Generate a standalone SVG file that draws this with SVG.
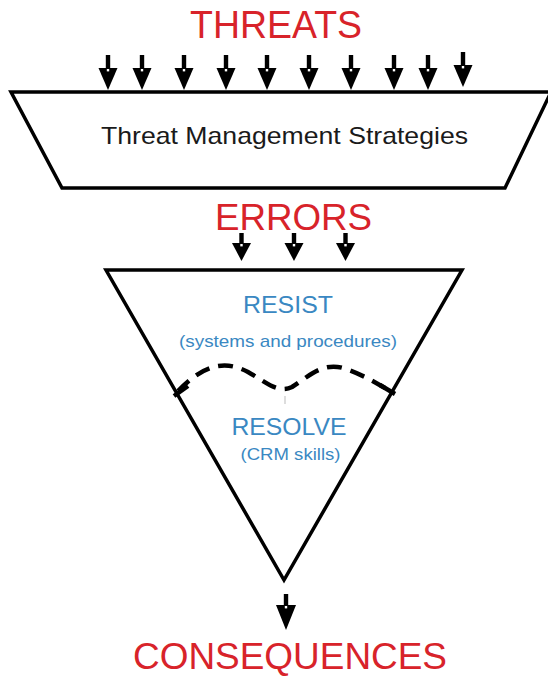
<svg xmlns="http://www.w3.org/2000/svg" width="548" height="676" viewBox="0 0 548 676">
<style>
.red{fill:#d8232a;font-family:"Liberation Sans",Arial,sans-serif;text-anchor:middle}
.blue{fill:#3a88c2;font-family:"Liberation Sans",Arial,sans-serif;text-anchor:middle}
.blk{fill:#1a1a1a;font-family:"Liberation Sans",Arial,sans-serif;text-anchor:middle}
.shape{fill:#fff;stroke:#000;stroke-width:3.5;stroke-linejoin:miter}
.arr{fill:#000;stroke:none}
.dot{fill:#fff}
.dash{fill:none;stroke:#000;stroke-width:4.5;stroke-dasharray:15 9}
.tick{stroke:#000;stroke-width:4.5}
</style>
<defs>
<g id="arrowL">
<rect x="-2.2" y="-35" width="4.4" height="15" class="arr"/>
<polygon points="-9.5,-22 9.5,-22 0,0" class="arr"/>
<rect x="-1.2" y="-21" width="2.4" height="2.4" class="dot"/>
</g>
<g id="arrowS">
<rect x="-2.2" y="-28" width="4.4" height="11" class="arr"/>
<polygon points="-9.5,-18 9.5,-18 0,0" class="arr"/>
<rect x="-1.2" y="-17" width="2.4" height="2.4" class="dot"/>
</g>
<g id="arrowB">
<rect x="-2.2" y="-36" width="4.4" height="13" class="arr"/>
<polygon points="-10,-25 10,-25 0,0" class="arr"/>
<rect x="-1.2" y="-24" width="2.4" height="2.4" class="dot"/>
</g>
</defs>
<rect width="548" height="676" fill="#fff"/>
<g id="threats-label"><text class="red" x="276" y="38" font-size="38" textLength="172" lengthAdjust="spacingAndGlyphs">THREATS</text></g>
<g id="tms">
<polygon class="shape" points="11,92 551,92 505,188 62,188"/>
<text class="blk" x="284.5" y="144" font-size="24" textLength="367" lengthAdjust="spacingAndGlyphs">Threat Management Strategies</text>
</g>
<g id="errors-label"><text class="red" x="293.5" y="230" font-size="37" textLength="157" lengthAdjust="spacingAndGlyphs">ERRORS</text></g>
<g id="funnel">
<polygon class="shape" points="106,270 462,270 284,580" stroke-width="3"/>
<path class="dash" d="M178,391 C200,368 222,358 248,372 C266,382 278,394 292,387 C308,377 322,362 343,368 C362,374 378,384 392,392"/>
<line class="tick" x1="174" y1="396" x2="188" y2="386"/>
<line class="tick" x1="380" y1="385" x2="395" y2="394"/>
<line x1="285" y1="396" x2="285" y2="404" stroke="#bbb" stroke-width="1"/>
<text class="blue" x="288" y="313" font-size="23" textLength="90" lengthAdjust="spacingAndGlyphs">RESIST</text>
<text class="blue" x="288" y="347" font-size="17" textLength="218" lengthAdjust="spacingAndGlyphs">(systems and procedures)</text>
<text class="blue" x="289" y="435" font-size="23" textLength="115" lengthAdjust="spacingAndGlyphs">RESOLVE</text>
<text class="blue" x="290.5" y="460" font-size="17" textLength="100" lengthAdjust="spacingAndGlyphs">(CRM skills)</text>
</g>
<g id="consequences-label"><text class="red" x="290" y="669" font-size="37" textLength="314" lengthAdjust="spacingAndGlyphs">CONSEQUENCES</text></g>
<g id="connectors">
<use href="#arrowL" x="108" y="90"/>
<use href="#arrowL" x="142" y="90"/>
<use href="#arrowL" x="184" y="90"/>
<use href="#arrowL" x="226" y="90"/>
<use href="#arrowL" x="267" y="90"/>
<use href="#arrowL" x="309" y="90"/>
<use href="#arrowL" x="351" y="90"/>
<use href="#arrowL" x="394" y="90"/>
<use href="#arrowL" x="428" y="90"/>
<use href="#arrowL" x="463" y="87"/>
<use href="#arrowS" x="241.5" y="261"/>
<use href="#arrowS" x="294" y="261"/>
<use href="#arrowS" x="345.5" y="261"/>
<use href="#arrowB" x="286" y="630"/>
</g>
</svg>
